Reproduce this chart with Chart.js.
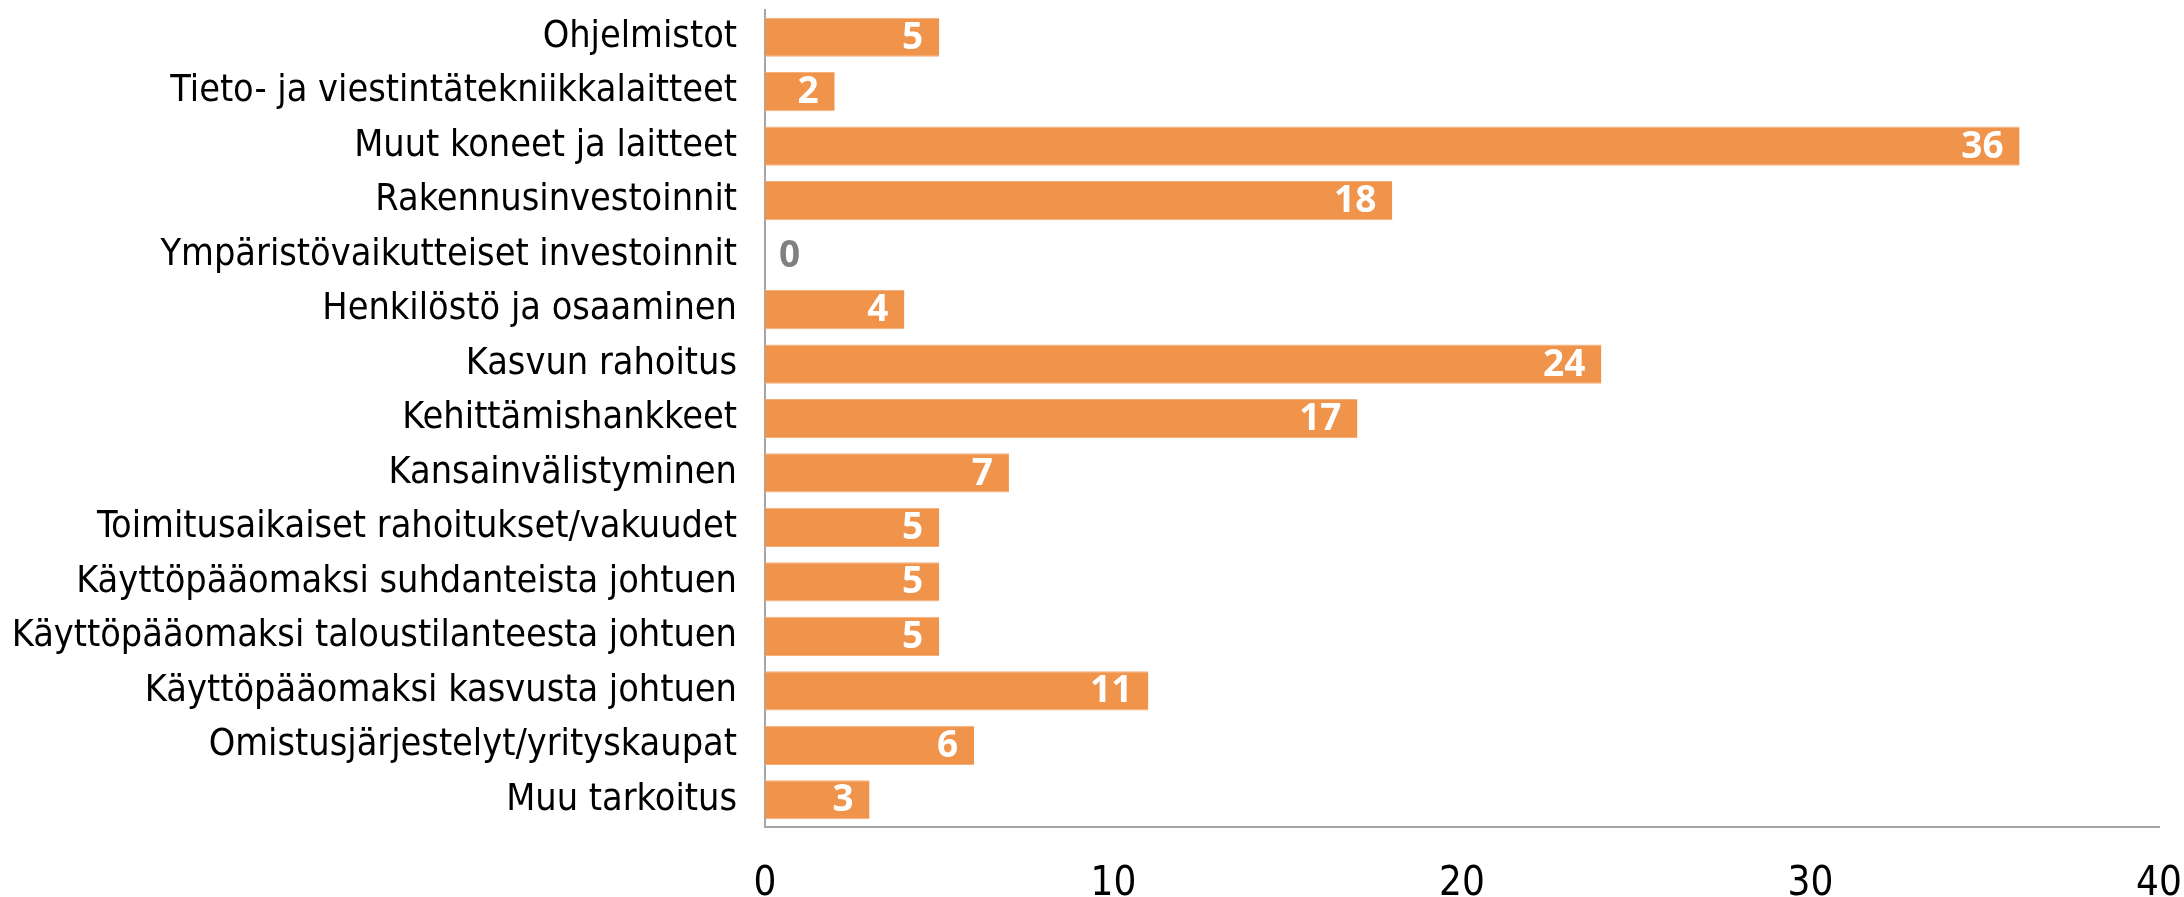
<!DOCTYPE html>
<html>
<head>
<meta charset="utf-8">
<script src="https://cdn.jsdelivr.net/npm/chart.js@4/dist/chart.umd.min.js"></script>
<style>
  html, body { margin: 0; padding: 0; background: #fff; }
  #wrap { width: 2184px; height: 897px; }
</style>
</head>
<body>
<div id="wrap"><canvas id="chart"></canvas></div>
<script>
const categories = [
    'Ohjelmistot',
    'Tieto- ja viestintätekniikkalaitteet',
    'Muut koneet ja laitteet',
    'Rakennusinvestoinnit',
    'Ympäristövaikutteiset investoinnit',
    'Henkilöstö ja osaaminen',
    'Kasvun rahoitus',
    'Kehittämishankkeet',
    'Kansainvälistyminen',
    'Toimitusaikaiset rahoitukset/vakuudet',
    'Käyttöpääomaksi suhdanteista johtuen',
    'Käyttöpääomaksi taloustilanteesta johtuen',
    'Käyttöpääomaksi kasvusta johtuen',
    'Omistusjärjestelyt/yrityskaupat',
    'Muu tarkoitus'
];
const values = [5, 2, 36, 18, 0, 4, 24, 17, 7, 5, 5, 5, 11, 6, 3];
const xTicks = [0, 10, 20, 30, 40];

const labelFont = '"Liberation Sans Narrow", "DejaVu Sans Condensed", sans-serif';

// value labels at the bar ends
const valueLabels = {
    id: 'valueLabels',
    afterDatasetsDraw(chart) {
        const ctx = chart.ctx;
        const meta = chart.getDatasetMeta(0);
        ctx.save();
        ctx.font = 'bold 37px "Open Sans", sans-serif';
        ctx.textBaseline = 'middle';
        meta.data.forEach(function (bar, i) {
            const v = values[i];
            if (v === 0) {
                ctx.fillStyle = '#808080';
                ctx.textAlign = 'left';
                ctx.fillText(String(v), bar.base + 14, bar.y + 1);
            } else {
                ctx.fillStyle = '#ffffff';
                ctx.textAlign = 'right';
                ctx.fillText(String(v), bar.x - 16, bar.y + 1);
            }
        });
        ctx.restore();
    }
};

Chart.defaults.font.family = labelFont;
Chart.defaults.color = '#000';

new Chart(document.getElementById('chart').getContext('2d'), {
    type: 'bar',
    data: {
        labels: categories,
        datasets: [{
            data: values,
            backgroundColor: '#F0934B',
            borderColor: '#F5B07E',
            borderWidth: {top: 1, bottom: 1, left: 0, right: 0},
            borderSkipped: false,
            barPercentage: 0.72,
            categoryPercentage: 1
        }]
    },
    options: {
        indexAxis: 'y',
        responsive: true,
        maintainAspectRatio: false,
        animation: false,
        layout: { padding: { top: 10, right: 25, left: 0, bottom: 0 } },
        plugins: {
            legend: { display: false },
            tooltip: { enabled: false }
        },
        scales: {
            x: {
                min: 0,
                max: 40,
                afterBuildTicks(scale) {
                    scale.ticks = xTicks.map(v => ({ value: v }));
                },
                afterFit(scale) {
                    scale.height = 70;
                    scale.paddingLeft = 0;
                    scale.paddingRight = 0;
                },
                grid: { display: false, drawTicks: false },
                border: { display: true, color: '#a6a6a6', width: 2 },
                ticks: {
                    padding: 34,
                    maxRotation: 0,
                    font: { size: 40 },
                    color: '#000'
                }
            },
            y: {
                afterFit(scale) {
                    scale.width = 765;
                    scale.paddingTop = 0;
                    scale.paddingBottom = 0;
                },
                grid: { display: false, drawTicks: false },
                border: { display: true, color: '#a6a6a6', width: 2 },
                ticks: {
                    padding: 28,
                    autoSkip: false,
                    font: { size: 37.5 },
                    color: '#000'
                }
            }
        }
    },
    plugins: [valueLabels]
});
</script>
</body>
</html>
